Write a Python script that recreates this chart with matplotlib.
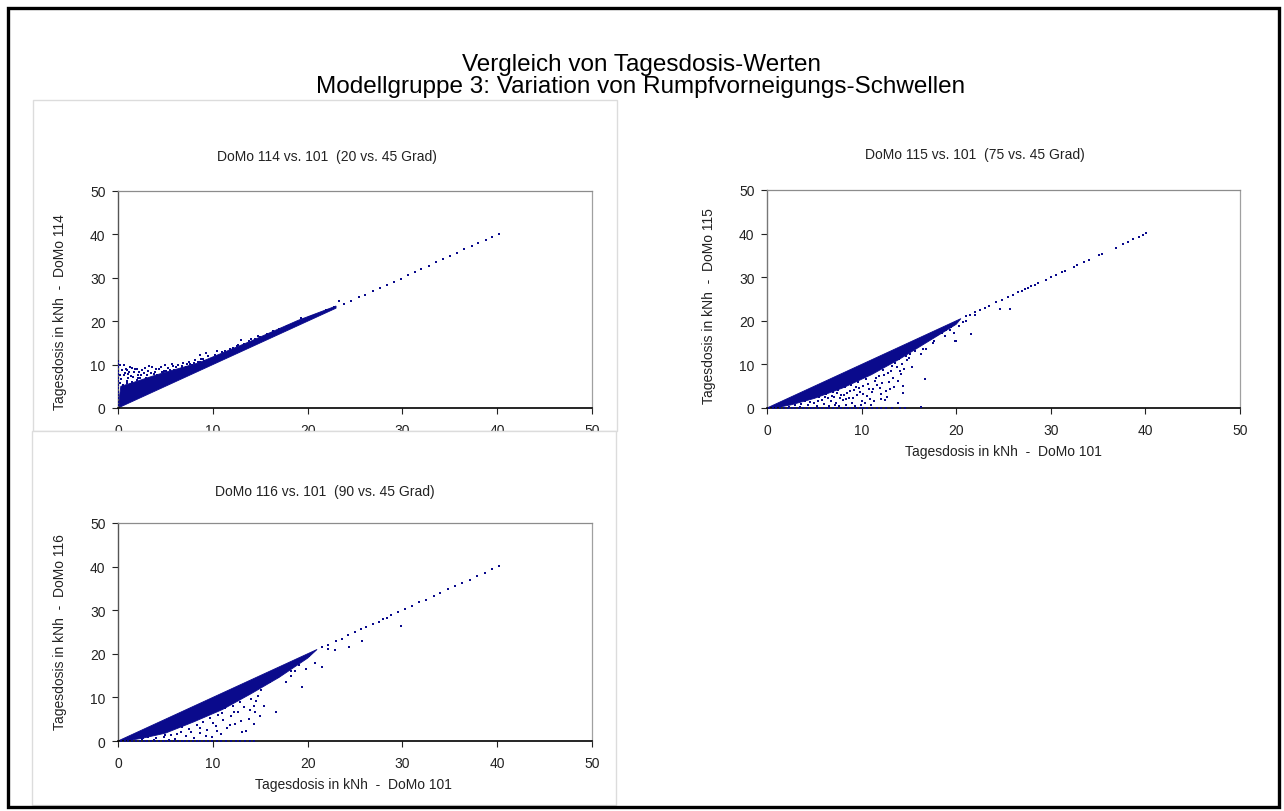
import matplotlib
matplotlib.use("Agg")
import matplotlib.pyplot as plt
from matplotlib.patches import Rectangle, Polygon

plt.rcParams['font.family'] = ['Liberation Sans', 'DejaVu Sans']

# ---------------------------------------------------------------- data
ticks = [0, 10, 20, 30, 40, 50]

# DoMo 114 vs. 101 (20 vs. 45 Grad)
p114_core_x = [0.0, 0.3, 1.5, 4.0, 8.5, 14.0, 19.0, 23.0, 23.0]
p114_core_y = [0.0, 5.0, 5.8, 7.6, 10.4, 15.4, 20.2, 23.5, 23.0]
p114_x = [0.05, 0.05, 0.05, 0.05, 0.05, 0.05, 0.05, 0.05, 0.05, 0.05, 0.05, 0.05, 0.05, 0.05,
          0.2, 0.2, 0.25, 0.3,
          0.4, 0.6, 0.8, 1.0, 1.2, 1.4, 1.6, 1.8, 2.0, 2.2, 0.5, 0.9, 1.3, 2.4, 2.6, 2.8,
          3.0, 3.2, 3.4, 3.6, 3.8, 4.0, 4.2, 4.5, 4.7, 5.0, 5.2, 5.5, 5.8, 6.0, 6.3, 6.6,
          6.9, 7.2, 7.5, 7.8, 8.1, 8.4, 8.8, 9.1, 9.5, 9.8, 10.2, 10.6, 11.0, 11.3, 11.7,
          12.1, 12.5, 12.9, 13.3, 13.8, 14.2, 14.8, 15.2, 15.7, 16.4, 16.0, 17.0, 17.3,
          17.8, 18.5, 19.0, 19.6, 20.2, 20.8, 21.5, 22.2, 22.8, 23.3,
          1.1, 1.5, 2.1, 2.7, 3.3, 4.4, 4.9, 5.7, 6.8, 7.6, 8.6, 9.3, 10.4, 11.5, 13.0,
          14.5, 15.5, 16.8, 18.1,
          0.3, 0.5, 0.7, 0.9, 1.1, 1.3, 1.5, 1.7, 1.9, 2.1,
          2.3, 2.5, 2.9, 3.1, 3.5, 3.7, 3.9, 4.1, 4.3, 4.6,
          4.8, 5.1, 5.3, 5.6, 5.9, 6.1, 6.4, 6.7, 7.0, 7.3,
          7.7, 8.0, 8.3, 8.7, 9.0, 9.4, 9.7, 10.0, 10.5, 10.9,
          11.2, 11.8, 12.3, 12.7, 13.5, 14.0, 14.6, 15.0, 15.9, 16.6,
          17.5, 18.8, 19.3, 20.5, 21.2, 21.9, 0.6, 1.0, 1.4, 2.0]
p114_y = [0.6, 1.4, 2.2, 3.0, 3.8, 4.6, 5.4, 6.2, 7.0, 7.8, 8.6, 9.4, 10.2, 10.9,
          5.8, 7.6, 9.8, 6.7,
          8.7, 7.5, 9.0, 6.3, 8.2, 5.6, 7.1, 9.1, 6.4, 8.4, 5.2, 4.6, 3.9, 7.5, 5.9, 9.3,
          7.0, 8.6, 6.2, 9.4, 7.8, 8.9, 6.8, 9.5, 8.0, 9.8, 7.6, 8.8, 9.6, 8.3, 9.9, 8.9,
          10.4, 9.5, 10.7, 9.8, 11.0, 10.5, 11.3, 10.8, 11.9, 11.4, 12.3, 12.0, 12.8, 13.2,
          13.0, 13.9, 14.2, 14.0, 14.8, 15.4, 15.1, 16.7, 16.2, 17.0, 17.8, 16.8, 18.2,
          17.9, 18.9, 19.3, 19.9, 20.4, 20.9, 21.5, 22.0, 22.6, 23.3, 24.7,
          7.9, 9.3, 7.0, 8.0, 9.7, 7.4, 8.5, 10.2, 9.3, 10.2, 12.1, 12.6, 13.1, 12.4, 15.6,
          15.8, 16.0, 17.6, 18.6,
          6.6, 4.9, 8.1, 5.7, 7.0, 9.5, 6.1, 8.4, 5.5, 7.7,
          6.8, 8.7, 6.5, 7.6, 8.1, 6.9, 8.4, 7.5, 9.1, 8.2,
          7.3, 8.6, 9.2, 7.9, 8.7, 9.4, 8.6, 9.6, 8.7, 10.1,
          9.2, 10.4, 9.9, 10.7, 11.4, 10.3, 11.0, 11.6, 11.2, 11.8,
          12.1, 13.6, 13.2, 14.6, 14.3, 15.8, 15.5, 16.3, 16.9, 17.1,
          18.5, 19.6, 20.7, 21.1, 21.6, 22.6, 9.8, 8.8, 7.4, 9.0]
p114_diag_x = [23.8, 24.6, 25.4, 26.1, 26.9, 27.6, 28.4, 29.1, 29.8, 30.6, 31.3, 32.0,
               32.8, 33.5, 34.3, 35.0, 35.8, 36.5, 37.3, 38.0, 38.8, 39.5, 40.2]
p114_diag_y = [23.9, 24.6, 25.5, 26.1, 26.9, 27.7, 28.4, 29.1, 29.8, 30.7, 31.3, 32.0,
               32.8, 33.6, 34.3, 35.0, 35.8, 36.6, 37.3, 38.0, 38.8, 39.5, 40.1]

# DoMo 115 vs. 101 (75 vs. 45 Grad)
p115_core_x = [0.0, 20.5, 20.0, 17.0, 14.0, 11.0, 8.0, 5.0, 2.5, 1.0]
p115_core_y = [0.0, 20.5, 19.2, 15.2, 11.2, 7.6, 4.6, 2.2, 0.7, 0.1]
p115_x = [3.0, 3.5, 4.0, 4.3, 4.6, 5.0, 5.3, 5.5, 5.8, 6.0, 6.2, 6.4, 6.6, 6.8, 7.0, 7.1,
          7.3, 7.5, 7.6, 7.8, 8.0, 8.2, 8.3, 8.5, 8.7, 8.9, 9.0, 9.2, 9.3, 9.5, 9.6, 9.8,
          10.0, 10.1, 10.3, 10.5, 10.6, 10.8, 10.9, 11.0, 11.2, 11.4, 11.6, 11.8, 12.0,
          12.1, 12.3, 12.5, 12.7, 12.9, 13.0, 13.2, 13.3, 13.5, 13.8, 14.0, 14.1, 14.2,
          14.4, 14.4, 14.5, 14.7, 15.0, 15.3, 15.4, 15.8, 16.0, 16.3, 16.5, 16.7, 16.8,
          17.2, 17.6, 17.7, 18.2, 18.5, 18.8, 19.3, 19.8, 19.9, 20.0, 20.3, 20.7, 21.0,
          21.6, 22.0, 24.6, 25.7,
          0.2, 0.6, 1.0, 1.4, 1.8, 2.2, 2.6, 3.0, 3.4, 3.8, 4.2, 4.6, 5.0, 5.4, 5.8, 6.2,
          6.6, 7.0, 7.4, 7.8, 8.2, 8.6, 9.0, 9.4, 9.8, 10.2, 10.6, 11.1, 11.6, 12.1, 12.6,
          13.2, 14.1, 14.6, 16.3,
          1.5, 2.0, 2.3, 2.8, 3.2, 3.6, 4.1, 4.5, 4.9, 5.4,
          5.7, 6.1, 6.5, 6.9, 7.2, 7.4, 7.7, 8.1, 8.4, 8.8,
          9.1, 9.4, 9.7, 9.9, 10.2, 10.4, 10.7, 11.1, 11.3, 11.5,
          11.9, 12.2, 12.4, 12.6, 12.8, 13.1, 13.4, 13.7, 13.9, 14.3,
          14.8, 15.1, 15.6, 16.1, 16.6, 17.0, 17.4, 18.0, 18.9, 19.5]
p115_y = [0.6, 0.3, 1.5, 0.8, 2.2, 1.2, 0.5, 2.6, 1.8, 0.9, 3.1, 2.2, 0.5, 1.5, 3.6, 2.5,
          1.1, 4.2, 0.4, 3.0, 1.9, 4.8, 0.8, 3.5, 2.4, 5.3, 1.2, 4.1, 0.4, 2.9, 6.0, 3.6,
          1.6, 5.1, 7.0, 6.6, 2.7, 4.3, 2.1, 0.8, 4.3, 6.1, 5.3, 7.4, 2.1,
          3.2, 8.8, 1.8, 2.5, 6.0, 4.3, 9.6, 6.8, 10.4, 1.1, 11.3, 8.5, 7.9,
          5.1, 3.4, 8.9, 12.0, 11.5, 9.4, 13.5, 15.0, 14.2, 12.4, 13.5, 6.6, 13.6,
          16.0, 15.0, 15.3, 17.3, 17.3, 16.6, 17.8, 17.3, 15.4, 15.3, 18.9, 19.8, 19.9,
          17.0, 21.3, 22.6, 22.8,
          0.0, 0.0, 0.0, 0.0, 0.0, 0.0, 0.0, 0.0, 0.0, 0.0, 0.0, 0.0, 0.0, 0.0, 0.0, 0.0,
          0.0, 0.0, 0.0, 0.0, 0.0, 0.0, 0.0, 0.0, 0.0, 0.0, 0.0, 0.0, 0.0, 0.0, 0.0,
          0.0, 0.0, 0.0, 0.2,
          0.5, 0.9, 0.3, 1.2, 1.7, 0.9, 2.4, 1.3, 2.9, 1.7,
          3.3, 2.6, 3.9, 2.8, 0.8, 3.4, 2.2, 3.0, 2.0, 3.9,
          2.2, 4.8, 4.5, 0.6, 3.1, 1.2, 5.5, 3.6, 1.6, 6.8,
          4.6, 5.8, 7.5, 3.9, 8.0, 8.6, 4.9, 9.5, 6.3, 10.2,
          11.0, 12.3, 13.0, 14.8, 15.2, 15.7, 16.4, 16.8, 17.9, 18.5]
p115_diag_x = [21.0, 21.5, 22.0, 22.5, 23.0, 23.5, 24.2, 24.8, 25.5, 26.0, 26.5, 27.0,
               27.3, 27.6, 27.9, 28.3, 28.6, 29.5, 30.0, 30.6, 31.2, 31.5, 32.4, 32.8,
               33.5, 34.0, 35.1, 35.4, 36.9, 37.6, 38.2, 38.7, 39.3, 39.7, 40.1]
p115_diag_y = [21.0, 21.4, 22.0, 22.5, 22.9, 23.5, 24.2, 24.7, 25.5, 25.9, 26.5, 26.9,
               27.3, 27.5, 27.9, 28.2, 28.6, 29.4, 30.0, 30.5, 31.2, 31.5, 32.3, 32.8,
               33.4, 34.0, 35.0, 35.4, 36.8, 37.6, 38.1, 38.7, 39.2, 39.7, 40.1]

# DoMo 116 vs. 101 (90 vs. 45 Grad)
p116_core_x = [0.0, 21.0, 20.0, 17.0, 14.0, 11.0, 8.0, 5.0, 2.5, 1.0]
p116_core_y = [0.0, 21.0, 19.0, 14.6, 10.8, 7.2, 4.4, 1.8, 0.6, 0.1]
p116_x = [2.5, 3.2, 3.8, 4.3, 4.8, 5.2, 5.6, 6.0, 6.3, 6.6, 7.0, 7.2, 7.5, 7.8, 8.0, 8.3,
          8.5, 8.7, 9.0, 9.2, 9.4, 9.7, 9.9, 10.1, 10.3, 10.5, 10.7, 10.9, 11.1, 11.3,
          11.5, 11.7, 11.9, 12.1, 12.3, 12.5, 12.7, 12.9, 13.1, 13.3, 13.5, 13.6, 13.8,
          14.0, 14.3, 14.3, 14.5, 14.8, 15.0, 15.4, 15.2, 15.6, 16.0, 16.3, 16.7, 16.9,
          17.2, 17.7, 18.0, 18.3, 18.7, 19.0, 19.4, 19.8, 20.2, 20.8, 21.5, 22.2, 22.9,
          24.4, 25.7, 29.8,
          0.3, 0.7, 1.1, 1.5, 1.9, 2.3, 2.7, 3.1, 3.5, 3.9, 4.3, 4.7, 5.1, 5.5, 5.9, 6.3,
          6.7, 7.1, 7.5, 7.9, 8.3, 8.7, 9.1, 9.5, 9.9, 10.4, 10.9, 11.4, 11.9, 12.4, 12.9,
          13.4, 13.9, 14.3,
          1.5, 2.0, 2.6, 3.0, 3.5, 4.0, 4.5, 5.0, 5.4, 5.8,
          6.2, 6.8, 7.3, 7.7, 8.1, 8.6, 9.0, 9.3, 9.6, 10.0,
          10.4, 10.6, 11.0, 11.4, 11.8, 12.2, 12.6, 13.0, 13.4, 13.9,
          14.2, 14.6, 15.1, 15.5, 16.1, 16.5, 17.0, 17.5, 18.2, 19.1]
p116_y = [0.4, 1.0, 0.3, 1.9, 0.9, 2.5, 1.4, 0.5, 3.2, 2.0, 4.0, 1.1, 2.8, 4.6, 0.6, 3.6,
          5.2, 1.8, 4.4, 6.3, 2.6, 5.3, 0.9, 7.0, 3.5, 6.0, 8.3, 1.6, 4.8, 7.5,
          2.9, 9.2, 5.7, 8.0, 3.8, 10.4, 6.6, 9.0, 2.0, 7.7, 2.4, 11.5, 5.0,
          9.6, 8.1, 3.9, 6.6, 10.4, 5.8, 8.1, 12.8, 14.0, 13.5, 15.2, 6.7, 14.7,
          15.8, 13.5, 17.3, 15.0, 16.1, 18.0, 12.5, 16.5, 19.4, 18.0, 16.9, 21.0, 20.9,
          21.5, 23.0, 26.4,
          0.0, 0.0, 0.0, 0.0, 0.0, 0.0, 0.0, 0.0, 0.0, 0.0, 0.0, 0.0, 0.0, 0.0, 0.0, 0.0,
          0.0, 0.0, 0.0, 0.0, 0.0, 0.0, 0.0, 0.0, 0.0, 0.0, 0.0, 0.0, 0.0, 0.0, 0.0,
          0.0, 0.0, 0.0,
          0.3, 0.8, 0.6, 1.4, 1.6, 0.7, 2.3, 1.3, 0.2, 2.9,
          1.6, 3.1, 4.2, 2.0, 5.4, 3.0, 5.9, 1.2, 7.4, 4.1,
          2.3, 8.6, 6.4, 9.8, 3.7, 6.7, 11.0, 4.6, 12.3, 7.1,
          12.8, 9.2, 11.6, 13.8, 14.3, 15.6, 16.2, 16.6, 16.0, 17.5]
p116_diag_x = [21.5, 22.2, 23.0, 23.6, 24.3, 25.0, 25.6, 26.2, 26.9, 27.5, 28.0, 28.4,
               28.8, 29.5, 30.3, 31.0, 31.8, 32.5, 33.3, 34.0, 34.8, 35.6, 36.3, 37.1,
               37.9, 38.7, 39.4, 40.2]
p116_diag_y = [21.5, 22.1, 23.0, 23.5, 24.3, 24.9, 25.6, 26.1, 26.9, 27.4, 28.0, 28.3,
               28.8, 29.5, 30.2, 31.0, 31.8, 32.4, 33.3, 34.0, 34.8, 35.5, 36.3, 37.0,
               37.9, 38.6, 39.4, 40.1]

# ---------------------------------------------------------------- layout
W, H = 1284, 812
fig = plt.figure(figsize=(W / 100, H / 100), dpi=100)
fig.patch.set_facecolor('white')


def fx(px):
    return px / W


def fy(py):
    return 1 - py / H


def rect(x0, y0, x1, y1):
    return [fx(x0), fy(y1), (x1 - x0) / W, (y1 - y0) / H]


# outer frame
fig.patches.append(Rectangle((fx(8), fy(808)), (1279 - 8) / W, (808 - 9) / H,
                             transform=fig.transFigure, fill=False,
                             edgecolor='black', linewidth=2.4, zorder=5))

fig.text(fx(641), fy(65), 'Vergleich von Tagesdosis-Werten', ha='center', va='center',
         fontsize=17.5)
fig.text(fx(641), fy(87), 'Modellgruppe 3: Variation von Rumpfvorneigungs-Schwellen',
         ha='center', va='center', fontsize=17.5)

# panel frames of the two left charts
fig.patches.append(Rectangle((fx(33), fy(432)), (617 - 33) / W, (432 - 101) / H,
                             transform=fig.transFigure, facecolor='white',
                             edgecolor='#dcdcdc', linewidth=1.0, zorder=-1))
fig.patches.append(Rectangle((fx(32), fy(806)), (616 - 32) / W, (806 - 432) / H,
                             transform=fig.transFigure, facecolor='white',
                             edgecolor='#dcdcdc', linewidth=1.0, zorder=1))

POINT = '#0a0a8c'
SMALL = 10


def draw_panel(box, core_x, core_y, xs, ys, dx, dy, left_style, zorder, msize):
    ax = fig.add_axes(box, zorder=zorder)
    ax.set_facecolor('none')
    ax.add_patch(Polygon(list(zip(core_x, core_y)), closed=True, facecolor=POINT,
                         edgecolor=POINT, linewidth=0.6, zorder=2))
    ax.scatter(xs, ys, s=msize, marker='s', color=POINT, linewidths=0, zorder=3)
    ax.scatter(dx, dy, s=2.6, marker='s', color=POINT, linewidths=0, zorder=3)
    ax.set_xlim(0, 50)
    ax.set_ylim(0, 50)
    ax.set_xticks(ticks)
    ax.set_yticks(ticks)
    ax.tick_params(labelsize=SMALL, length=4, width=0.8, colors='#222222')
    ax.tick_params(axis='x', pad=7)
    ax.tick_params(axis='y', pad=5)
    ax.spines['bottom'].set_color('black')
    ax.spines['bottom'].set_linewidth(1.2)
    ax.spines['top'].set_color('#8c8c8c')
    ax.spines['top'].set_linewidth(0.9)
    ax.spines['right'].set_color('#a0a0a0')
    ax.spines['right'].set_linewidth(0.9)
    ax.spines['left'].set_color('#555555')
    ax.spines['left'].set_linewidth(1.0)
    if left_style == 'dotted':
        ax.spines['left'].set_linestyle((0, (1, 1)))
        ax.spines['right'].set_linestyle((0, (1, 1)))
        ax.spines['left'].set_color('#777777')
    return ax


ax114 = draw_panel(rect(118, 192, 592, 409), p114_core_x, p114_core_y, p114_x, p114_y,
                   p114_diag_x, p114_diag_y, 'solid', 0, 3.8)
ax116 = draw_panel(rect(118, 524, 592, 742), p116_core_x, p116_core_y, p116_x, p116_y,
                   p116_diag_x, p116_diag_y, 'solid', 2, 3.8)
ax115 = draw_panel(rect(767, 191, 1240, 409), p115_core_x, p115_core_y, p115_x, p115_y,
                   p115_diag_x, p115_diag_y, 'dotted', 0, 3.8)

# chart titles and axis titles
fig.text(fx(327), fy(157), 'DoMo 114 vs. 101  (20 vs. 45 Grad)', ha='center',
         va='center', fontsize=SMALL, color='#222222')
fig.text(fx(60), fy(312), 'Tagesdosis in kNh  -  DoMo 114', ha='center', va='center',
         rotation=90, fontsize=SMALL, color='#222222')

fig.text(fx(325), fy(492), 'DoMo 116 vs. 101  (90 vs. 45 Grad)', ha='center',
         va='center', fontsize=SMALL, color='#222222', zorder=3)
fig.text(fx(60), fy(632), 'Tagesdosis in kNh  -  DoMo 116', ha='center', va='center',
         rotation=90, fontsize=SMALL, color='#222222', zorder=3)
fig.text(fx(353), fy(785), 'Tagesdosis in kNh  -  DoMo 101', ha='center', va='center',
         fontsize=SMALL, color='#222222', zorder=3)

fig.text(fx(975), fy(155), 'DoMo 115 vs. 101  (75 vs. 45 Grad)', ha='center',
         va='center', fontsize=SMALL, color='#222222')
fig.text(fx(709), fy(306), 'Tagesdosis in kNh  -  DoMo 115', ha='center', va='center',
         rotation=90, fontsize=SMALL, color='#222222')
fig.text(fx(1003), fy(452), 'Tagesdosis in kNh  -  DoMo 101', ha='center', va='center',
         fontsize=SMALL, color='#222222')

fig.savefig('out.png', dpi=100, facecolor='white')
